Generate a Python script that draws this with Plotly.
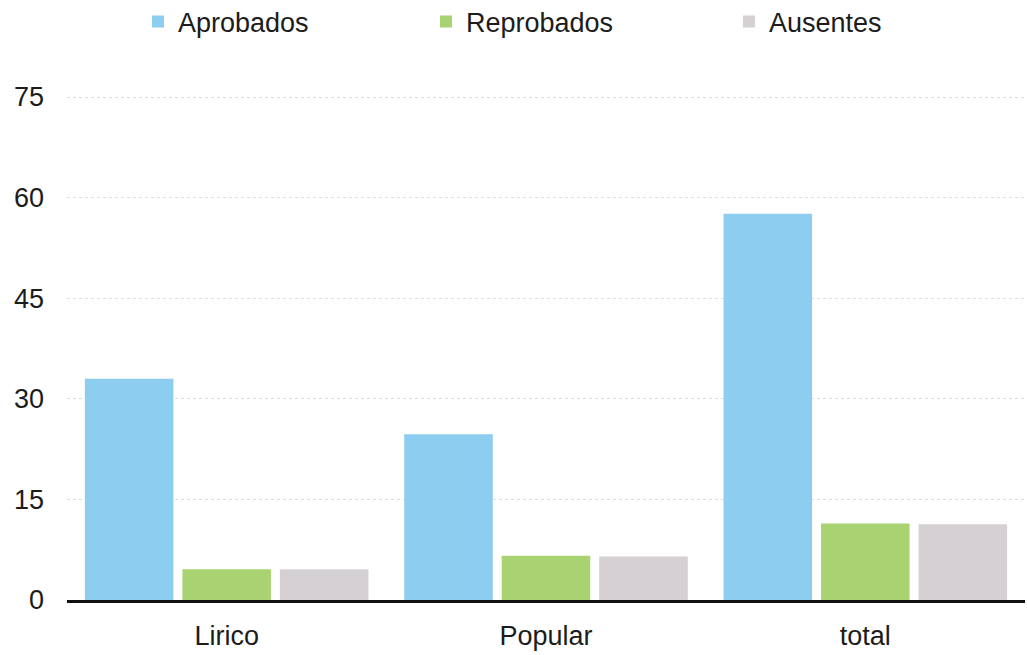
import plotly.graph_objects as go

categories = ["Lirico", "Popular", "total"]
aprobados = [33, 24.7, 57.6]
reprobados = [4.6, 6.6, 11.4]
ausentes = [4.6, 6.5, 11.3]
series_names = ["Aprobados", "Reprobados", "Ausentes"]
tick_vals = [0, 15, 30, 45, 60, 75]
tick_text = ["0", "15", "30", "45", "60", "75"]

colors = ["#8DCDF0", "#A9D372", "#D4D0D4"]
legends = ["legend", "legend2", "legend3"]

W, H = 1027, 655
fig = go.Figure()
for name, vals, col, lg in zip(series_names, [aprobados, reprobados, ausentes], colors, legends):
    fig.add_trace(go.Bar(x=categories, y=vals, name=name, marker=dict(color=col, line=dict(width=0)),
                         legend=lg))

font = dict(family="Liberation Sans, Arial, sans-serif", size=27, color="#1c1c1c")

def leg(px_left, py_mid):
    return dict(xref="container", yref="container", x=px_left / W, y=1 - py_mid / H,
                xanchor="left", yanchor="middle", orientation="h",
                font=font, bgcolor="rgba(0,0,0,0)", borderwidth=0)

fig.update_layout(
    width=W, height=H,
    margin=dict(l=67, r=2, t=95, b=55, autoexpand=False),
    paper_bgcolor="white", plot_bgcolor="white",
    font=font,
    barmode="group", bargap=0.084, bargroupgap=0.092,
    showlegend=True,
    legend=leg(138, 22),
    legend2=leg(426, 22),
    legend3=leg(729, 22),
)
fig.update_xaxes(showline=True, linecolor="#111111", linewidth=3, showgrid=False,
                 ticks="", ticklabelstandoff=10, tickfont=font, automargin=False)
fig.update_yaxes(range=[0, 75.3], tickvals=tick_vals, ticktext=tick_text, showgrid=True,
                 gridcolor="#dcdcdc", gridwidth=1, griddash="dot", zeroline=False,
                 showline=False, ticks="", ticklabelstandoff=22, tickfont=font, automargin=False)

fig.write_html("out.html", config={"displayModeBar": False},
               post_script="document.body.style.margin='0';document.body.style.overflow='hidden';")
